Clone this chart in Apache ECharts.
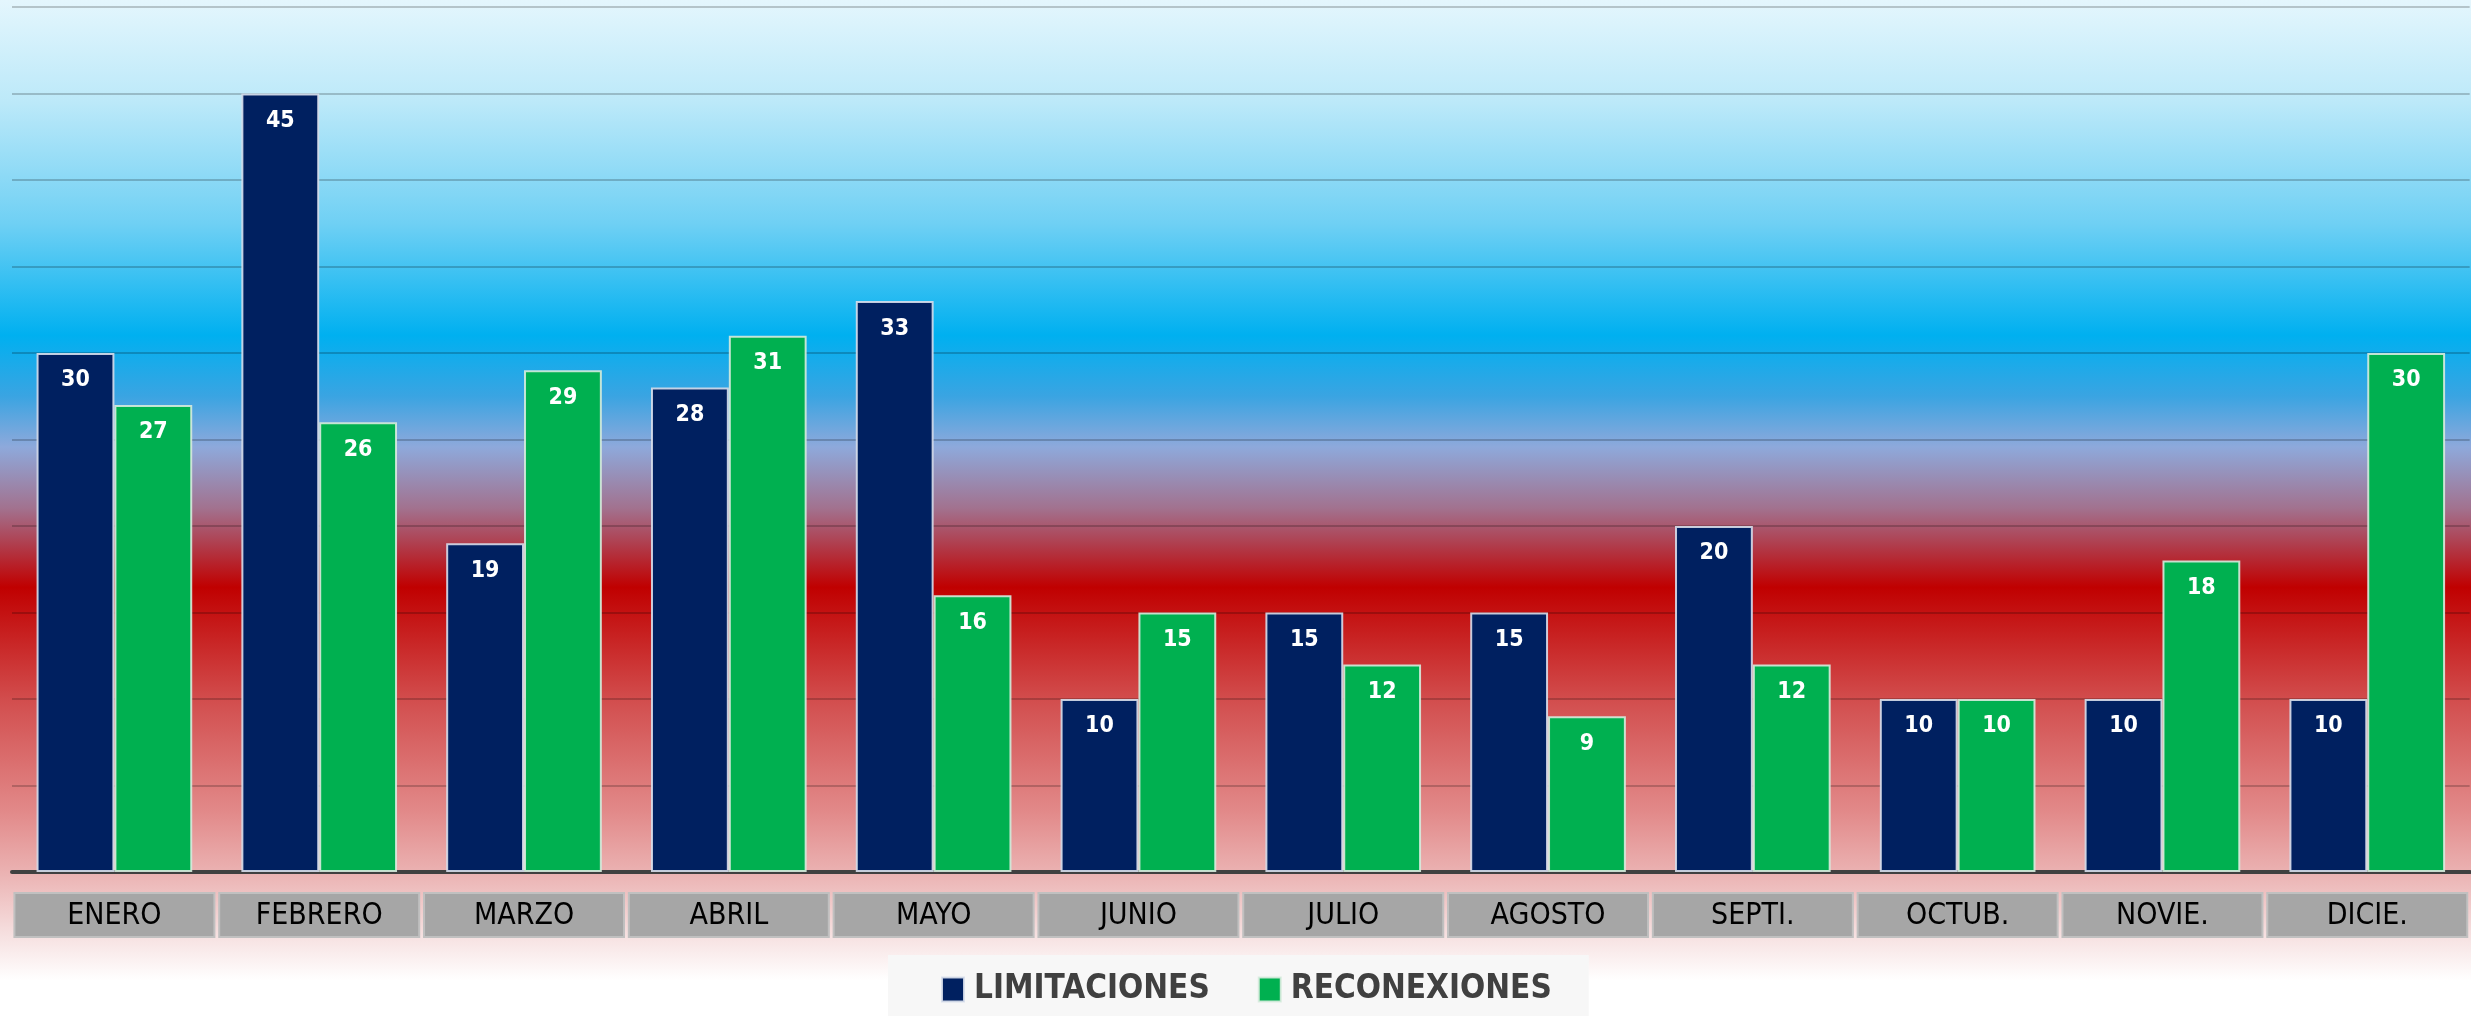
<!DOCTYPE html>
<html>
<head>
<meta charset="utf-8">
<script src="https://cdn.jsdelivr.net/npm/echarts@6/dist/echarts.min.js"></script>
<style>
html,body{margin:0;padding:0;background:#fff;}
#chart{width:2471px;height:1016px;}
</style>
</head>
<body>
<div id="chart"></div>
<script>
const categories = ['ENERO','FEBRERO','MARZO','ABRIL','MAYO','JUNIO','JULIO','AGOSTO','SEPTI.','OCTUB.','NOVIE.','DICIE.'];
const limitaciones = [30,45,19,28,33,10,15,15,20,10,10,10];
const reconexiones = [27,26,29,31,16,15,12,9,12,10,18,30];
const seriesNames = ['LIMITACIONES','RECONEXIONES'];

const narrow = '"Liberation Sans Narrow","DejaVu Sans Condensed","Noto Sans",sans-serif';

const chart = echarts.init(document.getElementById('chart'), null, {renderer:'canvas'});
const labelCfg = {
  show:true, position:'insideTop', distance:16, color:'#ffffff',
  fontWeight:'bold', fontSize:23, fontFamily:narrow
};
chart.setOption({
  animation:false,
  backgroundColor:{
    type:'linear', x:0, y:0, x2:0, y2:1,
    colorStops:[
      {offset:0.00, color:'#E4F6FD'},
      {offset:0.10, color:'#BCE9F9'},
      {offset:0.22, color:'#6FD0F4'},
      {offset:0.33, color:'#00B0F0'},
      {offset:0.39, color:'#3AA4E2'},
      {offset:0.44, color:'#8EA9DB'},
      {offset:0.50, color:'#A2728F'},
      {offset:0.578, color:'#C00000'},
      {offset:0.69, color:'#D24E4E'},
      {offset:0.80, color:'#E28A8A'},
      {offset:0.86, color:'#EBB3B3'},
      {offset:0.92, color:'#F6E0E0'},
      {offset:0.965, color:'#FFFFFF'},
      {offset:1.00, color:'#FFFFFF'}
    ]
  },
  grid:{left:12, width:2464, top:7, bottom:144, containLabel:false},
  legend:{
    data:seriesNames,
    left:888, top:955,
    backgroundColor:'#F7F7F7',
    padding:[18,37,21,53],
    icon:'rect', itemWidth:22, itemHeight:24, itemGap:48,
    textStyle:{fontFamily:narrow, fontWeight:'bold', fontSize:33, color:'#404040', padding:[0,0,0,5]}
  },
  xAxis:{
    type:'category', data:categories,
    axisLine:{show:true, lineStyle:{color:'#404040', width:4}},
    axisTick:{show:false},
    axisLabel:{
      interval:0, margin:22, color:'#000000',
      fontFamily:narrow, fontSize:30,
      backgroundColor:'#A6A6A6', borderColor:'#C0C0C0', borderWidth:2,
      width:198, height:42, lineHeight:44, align:'center'
    }
  },
  yAxis:{
    type:'value', min:0, max:50, interval:5,
    axisLabel:{show:false}, axisLine:{show:false}, axisTick:{show:false},
    splitLine:{show:true, lineStyle:{color:'rgba(0,0,0,0.2)', width:2}}
  },
  series:[
    {name:seriesNames[0], type:'bar', data:limitaciones, barGap:'0%', barCategoryGap:'24%',
     itemStyle:{color:'#002060', borderColor:'rgba(215,222,235,0.9)', borderWidth:2},
     label:labelCfg},
    {name:seriesNames[1], type:'bar', data:reconexiones,
     itemStyle:{color:'#00B050', borderColor:'rgba(215,235,222,0.9)', borderWidth:2},
     label:labelCfg}
  ]
});
</script>
</body>
</html>
